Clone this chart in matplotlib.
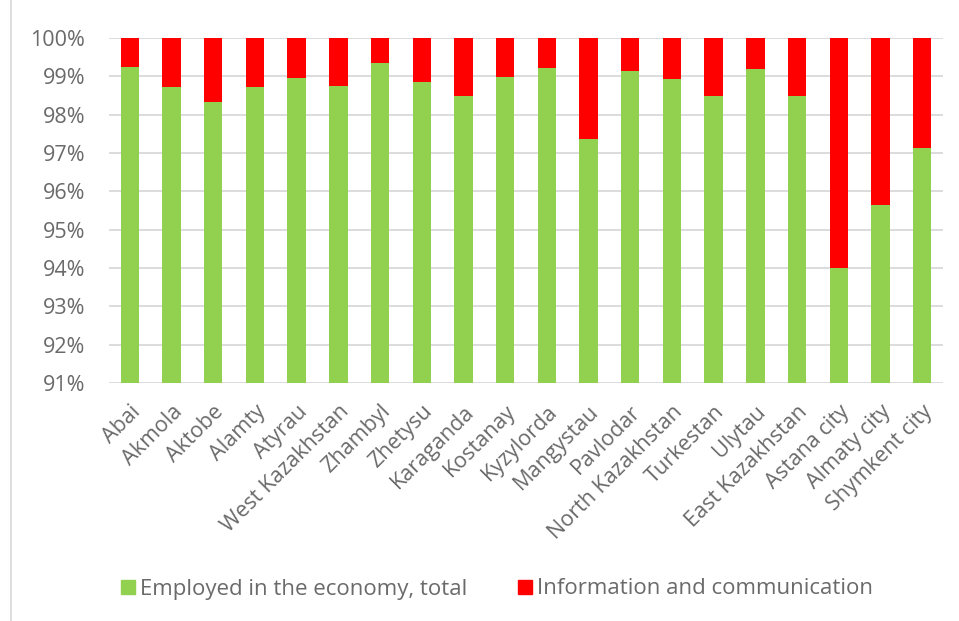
import matplotlib.pyplot as plt
from matplotlib.ticker import PercentFormatter
from matplotlib.lines import Line2D

regions = [
    "Abai", "Akmola", "Aktobe", "Alamty", "Atyrau", "West Kazakhstan",
    "Zhambyl", "Zhetysu", "Karaganda", "Kostanay", "Kyzylorda", "Mangystau",
    "Pavlodar", "North Kazakhstan", "Turkestan", "Ulytau", "East Kazakhstan",
    "Astana city", "Almaty city", "Shymkent city",
]
# share of employed (%), the rest is information and communication
employed = [99.25, 98.71, 98.34, 98.71, 98.96, 98.75, 99.34, 98.84, 98.48, 98.99,
            99.22, 97.36, 99.14, 98.92, 98.48, 99.18, 98.50, 94.00, 95.65, 97.14]
info_comm = [100 - v for v in employed]

green = "#92d050"
red = "#ff0000"
grey = "#6a6a6a"

plt.rcParams['font.family'] = ['Open Sans', 'DejaVu Sans']

fig = plt.figure(figsize=(9.59, 6.21), dpi=100)
ax = fig.add_axes([109 / 959, 1 - 383 / 621, 834 / 959, 345 / 621])

x = range(len(regions))
ax.bar(x, employed, width=0.44, color=green, zorder=3)
ax.bar(x, info_comm, width=0.44, bottom=employed, color=red, zorder=3)

ax.set_ylim(91, 100)
ax.set_xlim(-0.5, len(regions) - 0.5)
ax.set_yticks(range(91, 101))
ax.yaxis.set_major_formatter(PercentFormatter(decimals=0))
ax.grid(axis='y', color='#d9d9d9', linewidth=1.3, zorder=0)
for s in ax.spines.values():
    s.set_visible(False)
ax.tick_params(axis='both', length=0, colors=grey, labelsize=15.5)
ax.tick_params(axis='y', pad=17)
ax.tick_params(axis='x', pad=13)
ax.set_xticks(list(x))
ax.set_xticklabels(regions, rotation=45, ha='right', rotation_mode='anchor')

handles = [
    Line2D([], [], marker='s', linestyle='', color=green, markersize=10.5),
    Line2D([], [], marker='s', linestyle='', color=red, markersize=10.5),
]
fig.legend(handles, ["Employed in the economy, total", "Information and communication"],
           loc='center', bbox_to_anchor=(0.517, 1 - 589 / 621), ncol=2, frameon=False,
           fontsize=16, labelcolor=grey, handletextpad=0.15, columnspacing=2.2,
           handlelength=0.8)

# chart frame (left edge only visible)
fig.add_artist(Line2D([11 / 959, 11 / 959], [0, 1], color='#d9d9d9', linewidth=1.2))

fig.savefig("out.png", dpi=100)
